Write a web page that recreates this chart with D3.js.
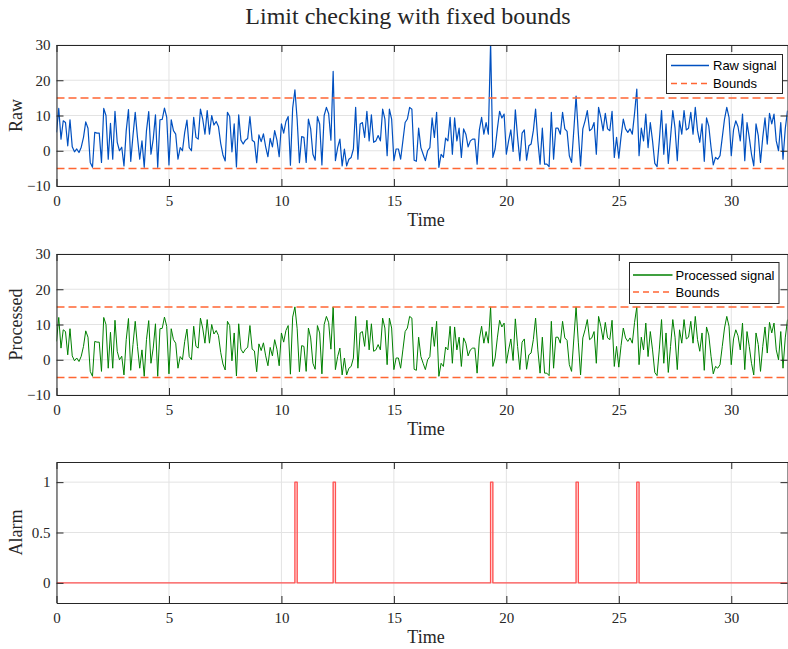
<!DOCTYPE html>
<html>
<head>
<meta charset="utf-8">
<script src="https://cdn.jsdelivr.net/npm/d3@7"></script>
<style>
  body { margin: 0; background: #fff; }
  .lbl { font-family: "Liberation Serif", serif; fill: #262626; }
  .leg { font-family: "Liberation Sans", Arial, sans-serif; font-size: 13px; fill: #000; }
</style>
</head>
<body>
<div id="chart"></div>
<script>
// sampling step of the signal (s)
const dt = 0.1;
const upperBound = 15;
const lowerBound = -5;

// raw signal, one value per 0.1 s from t = 0 to 32.5
const raw = [
  5.2, 12, 3.3, 8.5, 8, 1.4, 8.8, 1.1, -0.3, 0.5,
  -0.5, 1, 3.8, 8.2, 6.4, -3.3, -4.7, 5.2, 5, 5,
  -3.3, 12, 10, -2.4, 7.8, -2.4, 11.2, 2.4, 0, 1,
  -4.3, 5.7, 11.7, -3, 4.3, 10.9, 3.8, -2.4, 2.8, -4.7,
  5.7, 11.1, -1, 3.3, 10.2, -4.7, 8.8, 8.9, 12.1, 9.5,
  -4, 8.8, 5.7, 4.7, -2.4, 0.9, 0, 5.2, 8.7, 0.9,
  0, 9.5, 3.8, 3.3, 11.8, 9, 4.7, 11.4, 4.7, 10,
  7.3, 8.3, 6.9, 2.1, -1.2, -2.9, 10.9, 9.7, -0.3, 7.6,
  -4.6, 10.2, 3, 1.9, 3, 3.5, 9.7, 3, 2.5, -3.4,
  4.5, 2.6, 4.8, 1.1, -1.7, 3.5, 1.1, 5.7, 3, -1.7,
  7.6, 5, 8.3, 9.7, -4.1, 12.1, 17.3, 8.8, -3.4, 4,
  3.8, -3.3, 9, 6.2, -1, -2.7, 9.7, 7.6, -4, 10,
  12.3, 10.5, 3, 22.5, -2.8, 0.9, 3.3, -4.3, 0.5, -4.3,
  -2.4, -1.9, 0.5, 12.3, -2.4, 7.6, 8, 3.8, 11.2, 2.8,
  10.2, 2.4, 2.8, 4.3, 2.8, 11.8, 9, -1.4, 11.8, 9,
  -2.8, 0.5, 0.5, -2.4, 2.8, 8, 9, 12.3, 11.8, -2.7,
  -3, 6.4, 0.9, -1, -2.8, 0, 0.9, 9.3, 3.8, 10.9,
  -4.7, -1, -1.9, 3.6, 2.8, 9.5, -1, 9.3, 2.8, 6.4,
  -1.9, 6.2, 4.7, 1.1, 2.8, 3.3, 3.3, -3.8, 5.9, 9.5,
  4.7, 8, 4.7, 30.8, -1.9, 0.5, 6.2, 11.2, 9.3, 10.4,
  -1, 2.8, 5.9, -0.2, 11.6, 3.8, -2.8, 5, 5.9, -2.7,
  1.4, 1.9, 5.7, 11.8, 2.8, -3.8, 6.4, -3.8, -3.8, -4.5,
  10.9, -2.4, 6.4, 6.4, 4.7, 10.9, 6.2, 5.5, -1.4, -3.3,
  5.9, 15.5, 5, -4.3, 6.2, 8.5, 11.4, 5.7, 6.2, 8,
  -1, 12.3, 9.5, 5.7, 10.6, 6.2, 5.7, 11.2, -1.9, 3.8,
  -2.1, 4, 9, 6.2, 5.2, 6.2, 4.7, 10.6, 17.5, -1.4,
  6.4, 2.8, 10.4, 0.9, 8, 2.8, -3.6, -4.5, 2.8, 11.4,
  -1, 7.6, -3.6, 3.8, 11.4, 6.4, -2.8, 8.5, 4.7, 11.4,
  5.9, 6.4, 10.9, 4.7, 12.3, 5.7, 2.4, 7.6, -3, 9.3,
  7, 1, -4, -1.9, -2.4, -1.4, 3.8, 9, 12.3, 9.5,
  -1.4, 5.9, 8.5, 6.8, 2.8, 10.4, -2.8, 8, 3.8, -1,
  -4.3, 7.6, 4.3, -3.3, 3.8, 9.3, 1.9, 10.6, 7.6, 10.4,
  2.8, 0, 8, -2.4, 6.2, 11.4
];

// processed = raw clipped to the bounds, alarm = raw outside the bounds
const processed = raw.map(v => Math.max(lowerBound, Math.min(upperBound, v)));
const alarm = raw.map(v => (v > upperBound || v < lowerBound) ? 1 : 0);

const xTicks = [0, 5, 10, 15, 20, 25, 30];
const signalTicks = [-10, 0, 10, 20, 30];
const alarmTicks = [0, 0.5, 1];

const width = 788, height = 649;
const axisColor = "#262626";
const boundColor = "#ff6633";

const svg = d3.select("#chart").append("svg")
    .attr("width", width)
    .attr("height", height);

const x = d3.scaleLinear().domain([0, 32.5]).range([56.5, 787.5]);

svg.append("text")
    .attr("class", "lbl")
    .attr("x", 408)
    .attr("y", 24)
    .attr("text-anchor", "middle")
    .style("font-size", "24px")
    .text("Limit checking with fixed bounds");

const panels = [
  { top: 45, bottom: 186, label: "Raw", values: raw, color: "#0050c0", lw: 1.2,
    yDomain: [-10, 30], yTicks: signalTicks, bounds: true,
    legend: { x: 666.5, y: 54.5, w: 116, h: 39, line: [671, 709], textX: 713, rows: [65.5, 83.5],
              names: ["Raw signal", "Bounds"] } },
  { top: 254, bottom: 395, label: "Processed", values: processed, color: "#008000", lw: 1,
    yDomain: [-10, 30], yTicks: signalTicks, bounds: true,
    legend: { x: 629.5, y: 262.5, w: 149.5, h: 41, line: [633, 672.5], textX: 675.5, rows: [275, 292],
              names: ["Processed signal", "Bounds"] } },
  { top: 462, bottom: 603, label: "Alarm", values: alarm, color: "#ff5252", lw: 1.4,
    yDomain: [-0.2, 1.2], yTicks: alarmTicks, bounds: false, step: true }
];

panels.forEach((p, k) => {
  const y = d3.scaleLinear().domain(p.yDomain).range([p.bottom, p.top]);
  const g = svg.append("g");

  // grid
  g.append("g").selectAll("line").data(xTicks).join("line")
      .attr("x1", d => x(d)).attr("x2", d => x(d))
      .attr("y1", p.top).attr("y2", p.bottom)
      .attr("stroke", "#e3e3e3");
  g.append("g").selectAll("line").data(p.yTicks).join("line")
      .attr("x1", x.range()[0]).attr("x2", x.range()[1])
      .attr("y1", d => y(d)).attr("y2", d => y(d))
      .attr("stroke", "#e3e3e3");

  const clipId = "clip" + k;
  svg.append("clipPath").attr("id", clipId).append("rect")
      .attr("x", x.range()[0]).attr("y", p.top)
      .attr("width", x.range()[1] - x.range()[0]).attr("height", p.bottom - p.top);

  const plot = g.append("g").attr("clip-path", `url(#${clipId})`);

  const line = d3.line()
      .x((d, i) => x(i * dt))
      .y(d => y(d));
  if (p.step) line.curve(d3.curveStepAfter);

  plot.append("path")
      .datum(p.values)
      .attr("fill", "none")
      .attr("stroke", p.color)
      .attr("stroke-width", p.lw)
      .attr("stroke-linejoin", "round")
      .attr("d", line);

  if (p.bounds) {
    plot.selectAll(".bound").data([upperBound, lowerBound]).join("line")
        .attr("class", "bound")
        .attr("x1", x.range()[0]).attr("x2", x.range()[1])
        .attr("y1", d => y(d)).attr("y2", d => y(d))
        .attr("stroke", boundColor)
        .attr("stroke-width", 1.5)
        .attr("stroke-dasharray", "8,4");
  }

  // axes (ticks inside, box on)
  const styleAxis = sel => {
    sel.select(".domain").attr("stroke", axisColor);
    sel.selectAll(".tick line").attr("stroke", axisColor);
  };
  g.append("g")
      .attr("transform", `translate(0,${p.bottom})`)
      .call(d3.axisBottom(x).tickValues(xTicks).tickSize(-7).tickSizeOuter(0).tickPadding(9))
      .call(styleAxis);
  g.append("g")
      .attr("transform", `translate(0,${p.top})`)
      .call(d3.axisTop(x).tickValues(xTicks).tickSize(-7).tickSizeOuter(0).tickFormat(""))
      .call(styleAxis);
  g.append("g")
      .attr("transform", `translate(${x.range()[0]},0)`)
      .call(d3.axisLeft(y).tickValues(p.yTicks).tickSize(-7).tickSizeOuter(0).tickPadding(6)
            .tickFormat(d3.format("")))
      .call(styleAxis);
  g.append("g")
      .attr("transform", `translate(${x.range()[1]},0)`)
      .call(d3.axisRight(y).tickValues(p.yTicks).tickSize(-7).tickSizeOuter(0).tickFormat(""))
      .call(styleAxis);
  g.selectAll(".tick text")
      .style("font-family", "'Liberation Serif', serif").style("font-size", "15px").attr("fill", axisColor);

  // axis labels
  g.append("text")
      .attr("class", "lbl")
      .attr("x", (x.range()[0] + x.range()[1]) / 2 + 4)
      .attr("y", p.bottom + 40)
      .attr("text-anchor", "middle")
      .style("font-size", "18px")
      .text("Time");
  g.append("text")
      .attr("class", "lbl")
      .attr("transform", `translate(22,${(p.top + p.bottom) / 2}) rotate(-90)`)
      .attr("text-anchor", "middle")
      .style("font-size", "18px")
      .text(p.label);

  // legend
  if (p.legend) {
    const L = p.legend;
    const lg = g.append("g");
    lg.append("rect")
        .attr("x", L.x).attr("y", L.y).attr("width", L.w).attr("height", L.h)
        .attr("fill", "#fff").attr("stroke", axisColor).attr("stroke-width", 1);
    const styles = [
      { color: p.color, w: p.lw + 0.5, dash: null },
      { color: boundColor, w: 1.5, dash: "6,4" }
    ];
    L.rows.forEach((ry, j) => {
      lg.append("line")
          .attr("x1", L.line[0]).attr("x2", L.line[1])
          .attr("y1", ry).attr("y2", ry)
          .attr("stroke", styles[j].color)
          .attr("stroke-width", styles[j].w)
          .attr("stroke-dasharray", styles[j].dash);
      lg.append("text")
          .attr("class", "leg")
          .attr("x", L.textX).attr("y", ry)
          .attr("dy", "0.35em")
          .text(L.names[j]);
    });
  }
});
</script>
</body>
</html>
